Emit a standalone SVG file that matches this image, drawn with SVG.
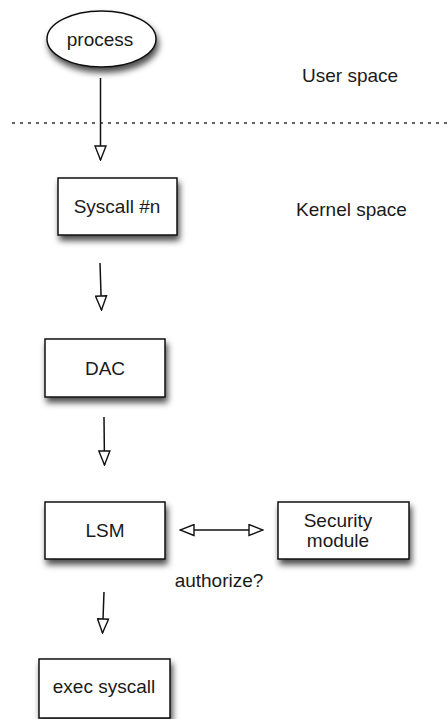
<svg xmlns="http://www.w3.org/2000/svg" width="448" height="719" viewBox="0 0 448 719">
<defs>
<filter id="sh" x="-20%" y="-20%" width="150%" height="160%">
<feDropShadow dx="2" dy="5" stdDeviation="3" flood-color="#000" flood-opacity="0.7"/>
</filter>
<marker id="ah" markerUnits="userSpaceOnUse" markerWidth="16" markerHeight="13" viewBox="-1 -1 16 13" refX="14" refY="5.5" orient="auto-start-reverse">
<path d="M0,0 L14,5.5 L0,11 Z" fill="#fff" stroke="#111" stroke-width="1.4" stroke-linejoin="miter"/>
</marker>
</defs>
<style>
.box{fill:#fff;stroke:#111;stroke-width:1.5;filter:url(#sh)}
.t{font-family:"Liberation Sans",Arial,sans-serif;font-size:19px;fill:#1a1a1a;text-anchor:middle}
.tl{font-family:"Liberation Sans",Arial,sans-serif;font-size:19px;fill:#1a1a1a}
.c{stroke:#111;stroke-width:1.5;fill:none;marker-end:url(#ah)}
</style>
<line x1="12" y1="123" x2="448" y2="123" stroke="#333" stroke-width="1.5" stroke-dasharray="3 5"/>
<text class="tl" x="302" y="82">User space</text>
<text class="tl" x="296" y="216">Kernel space</text>
<g id="connectors">
<line class="c" x1="100.5" y1="78" x2="100.5" y2="160"/>
<line class="c" x1="100" y1="263" x2="101.5" y2="310"/>
<line class="c" x1="104" y1="417" x2="104.5" y2="465"/>
<line class="c" x1="180" y1="530" x2="263" y2="530" marker-start="url(#ah)"/>
<line class="c" x1="104" y1="592" x2="102.5" y2="633"/>
<text class="t" x="219" y="587">authorize?</text>
</g>
<g id="process">
<ellipse class="box" cx="101.5" cy="39" rx="54.5" ry="28"/>
<text class="t" x="100" y="46">process</text>
</g>
<g id="syscall">
<rect class="box" x="58" y="178" width="119" height="57"/>
<text class="t" x="117" y="213">Syscall #n</text>
</g>
<g id="dac">
<rect class="box" x="45" y="339" width="120" height="58"/>
<text class="t" x="105" y="375">DAC</text>
</g>
<g id="lsm">
<rect class="box" x="45" y="502" width="120" height="57"/>
<text class="t" x="105" y="537">LSM</text>
</g>
<g id="security">
<rect class="box" x="278" y="502" width="131" height="57"/>
<text class="t" x="338" y="527">Security</text>
<text class="t" x="338" y="547">module</text>
</g>
<g id="exec">
<rect class="box" x="39" y="659" width="131" height="59"/>
<text class="t" x="104" y="693">exec syscall</text>
</g>
</svg>
